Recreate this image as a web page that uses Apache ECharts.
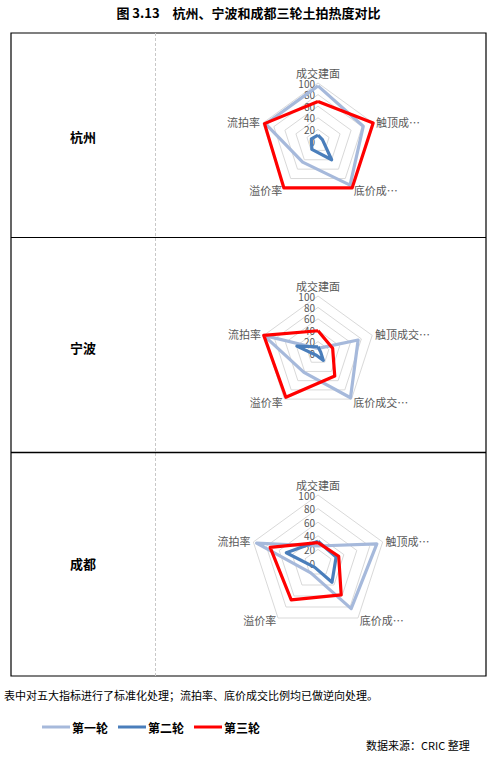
<!DOCTYPE html>
<html>
<head>
<meta charset="utf-8">
<script src="https://cdn.jsdelivr.net/npm/echarts@6/dist/echarts.min.js"></script>
<style>
html,body{margin:0;padding:0;background:#fff;}
#main{width:497px;height:763px;}
</style>
</head>
<body>
<div id="main"></div>
<script>
// data
var cities = ['杭州', '宁波', '成都'];
var rounds = ['第一轮', '第二轮', '第三轮'];
var roundColors = ['#a6b9db', '#4a7ebb', '#ff0000'];
var ticks = [0, 20, 40, 60, 80, 100];
// axis names as shown: 成交建面, 触顶成交比例, 底价成交比例, 溢价率, 流拍率
var names_hz = ['成交建面', '触顶成…', '底价成…', '溢价率', '流拍率'];
var names_nb = ['成交建面', '触顶成交…', '底价成交…', '溢价率', '流拍率'];
var names_cd = ['成交建面', '触顶成…', '底价成…', '溢价率', '流拍率'];
// values, same order as names
var hz_1 = [95, 82, 94, 45, 95];
var hz_2 = [10, 8, 40, 18, 12];
var hz_3 = [68, 100, 100, 100, 97];
var nb_1 = [8, 74, 97, 42, 100];
var nb_2 = [11, 5, 16, 5, 39];
var nb_3 = [39, 27, 50, 96, 100];
var cd_1 = [25, 91, 83, 18, 95];
var cd_2 = [32, 28, 35, 8, 49];
var cd_3 = [30, 32, 58, 67, 74];

var names = [names_hz, names_nb, names_cd];
var values = [[hz_1, hz_2, hz_3], [nb_1, nb_2, nb_3], [cd_1, cd_2, cd_3]];
// echarts places indicators counter clockwise, excel goes clockwise
var order = [0, 4, 3, 2, 1];

var centers = [[318, 141], [318, 353], [318, 563]];
var radii = [58, 57, 68];

var myChart = echarts.init(document.getElementById('main'), null, {renderer: 'svg'});

var radars = [];
var series = [];
for (var c = 0; c < cities.length; c++) {
	radars.push({
		center: centers[c],
		radius: radii[c],
		shape: 'polygon',
		splitNumber: ticks.length - 1,
		startAngle: 90,
		axisName: {color: '#595959', fontSize: 11, fontFamily: 'Noto Sans CJK SC'},
		nameGap: 3,
		splitLine: {lineStyle: {color: '#d9d9d9', width: 1}},
		splitArea: {show: false},
		axisLine: {show: false},
		axisTick: {show: false},
		axisLabel: {show: false},
		indicator: order.map(function (k, i) {
			var ind = {name: names[c][k], min: ticks[0], max: ticks[ticks.length - 1]};
			if (i === 0) {
				ind.axisLabel = {show: true, color: '#595959', fontSize: 10, lineHeight: 10, fontFamily: 'Noto Sans CJK SC', margin: 3, showMinLabel: true};
			}
			return ind;
		})
	});
	for (var r = 0; r < rounds.length; r++) {
		series.push({
			name: rounds[r],
			type: 'radar',
			radarIndex: c,
			symbol: 'none',
			silent: true,
			lineStyle: {color: roundColors[r], width: 3.2},
			itemStyle: {color: roundColors[r]},
			data: [{value: order.map(function (k) { return values[c][r][k]; })}]
		});
	}
}

var graphics = [
	{type: 'rect', shape: {x: 11, y: 33, width: 475, height: 643}, style: {fill: 'none', stroke: '#000', lineWidth: 1.2}},
	{type: 'line', shape: {x1: 155.5, y1: 33, x2: 155.5, y2: 676}, style: {stroke: '#c8c8c8', lineWidth: 1, lineDash: [3, 2]}},
	{type: 'line', shape: {x1: 11, y1: 237.5, x2: 486, y2: 237.5}, style: {stroke: '#000', lineWidth: 1.2}},
	{type: 'line', shape: {x1: 11, y1: 452.5, x2: 486, y2: 452.5}, style: {stroke: '#000', lineWidth: 1.6}},
	{type: 'text', left: 'center', top: 6, style: {text: '图 3.13　杭州、宁波和成都三轮土拍热度对比', font: 'bold 13px "Noto Sans CJK SC"', fill: '#000'}},
	{type: 'text', left: 4, top: 689, style: {text: '表中对五大指标进行了标准化处理；流拍率、底价成交比例均已做逆向处理。', font: '11px "Noto Sans CJK SC"', fill: '#000'}},
	{type: 'text', left: 366, top: 739, style: {text: '数据来源：CRIC 整理', font: '11px "Noto Sans CJK SC"', fill: '#000'}}
];
var rowY = [136, 347, 563];
for (var i = 0; i < cities.length; i++) {
	graphics.push({type: 'text', x: 83, y: rowY[i], style: {text: cities[i], font: 'bold 13px "Noto Sans CJK SC"', fill: '#000', align: 'center', verticalAlign: 'middle'}});
}

var option = {
	backgroundColor: '#fff',
	animation: false,
	legend: {
		data: rounds,
		left: 42,
		top: 721,
		padding: 0,
		itemWidth: 28,
		itemHeight: 3,
		itemGap: 10,
		icon: 'rect',
		textStyle: {fontSize: 12, fontWeight: 'bold', color: '#000', fontFamily: 'Noto Sans CJK SC', padding: [0, 0, 0, -3]},
		selectedMode: false
	},
	radar: radars,
	series: series,
	graphic: graphics
};
myChart.setOption(option, true);
</script>
</body>
</html>
